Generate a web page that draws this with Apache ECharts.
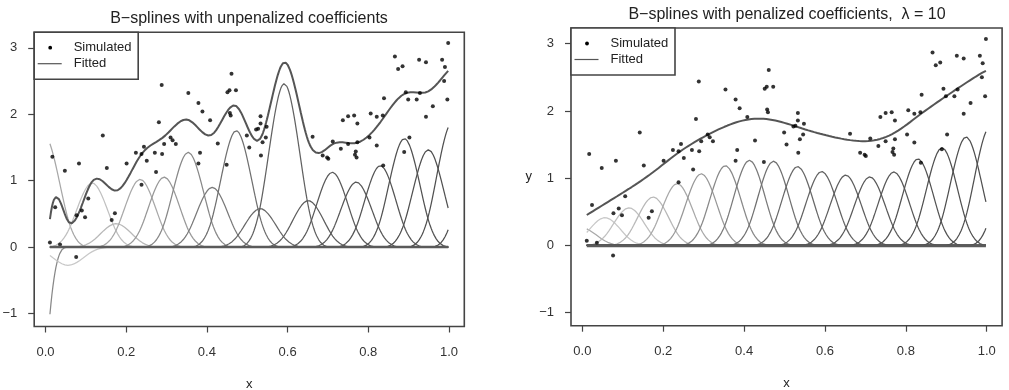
<!DOCTYPE html>
<html>
<head>
<meta charset="utf-8">
<script src="https://cdn.jsdelivr.net/npm/echarts@6/dist/echarts.min.js"></script>
<style>
html, body { margin: 0; padding: 0; background: #fff; }
#main { width: 1009px; height: 390px; }
</style>
</head>
<body>
<div id="main"></div>
<script>
// simulated points (same in both panels)
var simX = [0.011, 0.017, 0.024, 0.036, 0.048, 0.076, 0.077, 0.083, 0.090, 0.098,
  0.106, 0.142, 0.152, 0.164, 0.172, 0.201, 0.224, 0.238, 0.238, 0.244,
  0.251, 0.271, 0.274, 0.281, 0.288, 0.289, 0.294, 0.310, 0.315, 0.323,
  0.354, 0.379, 0.389, 0.379, 0.383, 0.408, 0.427, 0.449, 0.451, 0.456,
  0.461, 0.472, 0.457, 0.459, 0.499, 0.505, 0.522, 0.527, 0.533, 0.533,
  0.548, 0.546, 0.538, 0.534, 0.662, 0.687, 0.698, 0.701, 0.712, 0.732,
  0.737, 0.750, 0.765, 0.773, 0.750, 0.773, 0.767, 0.771, 0.769, 0.803,
  0.806, 0.821, 0.821, 0.837, 0.839, 0.836, 0.866, 0.874, 0.885, 0.893,
  0.899, 0.902, 0.889, 0.920, 0.928, 0.926, 0.943, 0.960, 0.943, 0.983,
  0.990, 0.988, 0.996, 0.998];
var simY = [0.07, 1.36, 0.60, 0.04, 1.15, -0.15, 0.48, 1.26, 0.55, 0.45,
  0.73, 1.68, 1.19, 0.41, 0.51, 1.26, 1.42, 1.40, 0.94, 1.51,
  1.30, 1.42, 1.13, 1.88, 2.44, 1.40, 1.55, 1.65, 1.61, 1.55,
  2.32, 2.17, 2.04, 1.26, 1.42, 1.91, 1.56, 1.24, 2.33, 2.36,
  2.61, 2.36, 2.02, 1.98, 1.68, 1.50, 1.77, 1.78, 1.97, 1.86,
  1.81, 1.65, 1.58, 1.38, 1.66, 1.38, 1.35, 1.33, 1.59, 1.48,
  1.91, 1.97, 1.98, 1.86, 1.55, 1.58, 1.39, 1.35, 1.44, 1.65,
  2.01, 1.96, 1.53, 1.23, 2.24, 1.98, 2.87, 2.68, 2.72, 2.33,
  2.22, 1.65, 1.43, 2.22, 2.32, 2.82, 2.78, 2.12, 1.96, 2.82,
  2.71, 2.50, 2.22, 3.07];

// cubic B-spline basis: nseg equal segments on knotRange -> nseg + 3 functions
var knotRange = [-0.0035, 1.0085];
var nseg = 17;

// coefficients of the 20 basis functions
var coefUnpen = [-14, 2.53, -0.41, 1.45, 0.53, 1.53, 1.58, 2.14, 1.35, 2.63,
  0.87, 3.69, 1.05, 1.69, 1.47, 1.84, 2.45, 2.2, 2.82, 2.8];
var coefPen = [0.16, 0.40, 0.62, 0.84, 1.08, 1.38, 1.6, 1.78, 1.9, 1.88,
  1.76, 1.65, 1.57, 1.53, 1.64, 1.93, 2.18, 2.42, 2.65, 2.75];

var xTicks = [0, 0.2, 0.4, 0.6, 0.8, 1.0];
var yTicks = [-1, 0, 1, 2, 3];
var titles = ['B\u2212splines with unpenalized coefficients',
  'B\u2212splines with penalized coefficients,  \u03bb = 10'];
var legendNames = ['Simulated', 'Fitted'];

var FONT = '"Liberation Sans", Arial, Helvetica, sans-serif';
var basisGray = ['#888', '#a8a8a8', '#c8c8c8', '#c0c0c0', '#b8b8b8', '#a8a8a8', '#989898',
  '#888', '#7a7a7a', '#707070', '#686868', '#626262', '#5e5e5e', '#5a5a5a', '#575757',
  '#545454', '#525252', '#505050', '#505050', '#505050'];

var dx = (knotRange[1] - knotRange[0]) / nseg;
function basis(j, x) {
  var c = knotRange[0] + (j - 1) * dx;
  var u = Math.abs(x - c) / dx;
  if (u < 1) return (4 - 6 * u * u + 3 * u * u * u) / 6;
  if (u < 2) return Math.pow(2 - u, 3) / 6;
  return 0;
}

var xLo = Math.min.apply(null, simX), xHi = Math.max.apply(null, simX);
var xs = [];
for (var i = 0; i <= 400; i++) xs.push(xLo + (xHi - xLo) * i / 400);

var points = simX.map(function (x, i) { return [x, simY[i]]; });

var panels = [
  { grid: { left: 34.2, top: 32.2, width: 430.1, height: 294.3 }, coef: coefUnpen, titleX: 249, titleY: 11, yName: '' },
  { grid: { left: 571, top: 28, width: 431.1, height: 297.7 }, coef: coefPen, titleX: 787, titleY: 7, yName: 'y' }
];

var option = {
  animation: false,
  title: [],
  grid: [],
  xAxis: [],
  yAxis: [],
  series: [],
  graphic: []
};

panels.forEach(function (p, k) {
  option.title.push({
    text: titles[k], left: p.titleX, top: p.titleY, textAlign: 'center', padding: 0,
    textStyle: { fontFamily: FONT, fontSize: 16, fontWeight: 'normal', color: '#222' }
  });
  option.grid.push({
    left: p.grid.left, top: p.grid.top, width: p.grid.width, height: p.grid.height,
    show: true, borderColor: '#444', borderWidth: 1.6, backgroundColor: 'transparent',
    outerBoundsMode: 'none'
  });
  option.xAxis.push({
    type: 'value', gridIndex: k, min: -0.028, max: 1.038, position: 'bottom',
    name: 'x', nameLocation: 'middle', nameGap: 51,
    nameTextStyle: { fontFamily: FONT, fontSize: 13, color: '#222' },
    axisLine: { show: false, onZero: false },
    axisTick: { show: true, inside: false, length: 6, customValues: xTicks, lineStyle: { color: '#444', width: 1.2 } },
    axisLabel: { customValues: xTicks, margin: 19, fontFamily: FONT, fontSize: 13, color: '#333',
      formatter: function (v) { return v.toFixed(1); } },
    splitLine: { show: false }
  });
  option.yAxis.push({
    type: 'value', gridIndex: k, min: -1.194, max: 3.234, position: 'left',
    name: p.yName, nameLocation: 'middle', nameGap: 39, nameRotate: 0,
    nameTextStyle: { fontFamily: FONT, fontSize: 13, color: '#222' },
    axisLine: { show: false, onZero: false },
    axisTick: { show: true, inside: false, length: 6, customValues: yTicks, lineStyle: { color: '#444', width: 1.2 } },
    axisLabel: { customValues: yTicks, margin: 17, fontFamily: FONT, fontSize: 13, color: '#333',
      formatter: function (v) { return v < 0 ? '\u2212' + Math.abs(v) : String(v); } },
    splitLine: { show: false }
  });

  var fitted = xs.map(function () { return 0; });
  p.coef.forEach(function (a, j) {
    var data = xs.map(function (x, i) {
      var v = a * basis(j, x);
      fitted[i] += v;
      return [x, v];
    });
    var s = {
      type: 'line', xAxisIndex: k, yAxisIndex: k, data: data, showSymbol: false, silent: true,
      lineStyle: { color: basisGray[j], width: 1.25 }, z: 2
    };
    if (j === 0) {
      // the flat zero parts of all basis curves pile up into one heavy line
      s.markLine = {
        silent: true, symbol: 'none', label: { show: false },
        lineStyle: { color: '#5a5a5a', width: 2.4, type: 'solid' },
        data: [[{ coord: [xLo, 0] }, { coord: [xHi, 0] }]]
      };
    }
    option.series.push(s);
  });
  option.series.push({
    name: legendNames[1], type: 'line', xAxisIndex: k, yAxisIndex: k, showSymbol: false, silent: true,
    data: xs.map(function (x, i) { return [x, fitted[i]]; }),
    lineStyle: { color: '#555', width: 2 }, z: 3
  });
  option.series.push({
    name: legendNames[0], type: 'scatter', xAxisIndex: k, yAxisIndex: k, data: points,
    symbolSize: 4, itemStyle: { color: '#000' }, silent: true, z: 4
  });

  // legend box, R style
  var gl = p.grid.left, gt = p.grid.top;
  option.graphic.push(
    { type: 'rect', shape: { x: gl, y: gt, width: 104, height: 47 }, style: { fill: '#fff', stroke: '#444', lineWidth: 1.6 }, z: 10 },
    { type: 'circle', shape: { cx: gl + 16, cy: gt + 15.5, r: 1.9 }, style: { fill: '#000' }, z: 11 },
    { type: 'line', shape: { x1: gl + 3.5, y1: gt + 31.5, x2: gl + 27.5, y2: gt + 31.5 }, style: { stroke: '#555', lineWidth: 1.2 }, z: 11 },
    { type: 'text', x: gl + 39.5, y: gt + 15.5, style: { text: legendNames[0], font: '13px ' + FONT, fill: '#222', verticalAlign: 'middle' }, z: 11 },
    { type: 'text', x: gl + 39.5, y: gt + 31.5, style: { text: legendNames[1], font: '13px ' + FONT, fill: '#222', verticalAlign: 'middle' }, z: 11 }
  );
});

var chart = echarts.init(document.getElementById('main'));
chart.setOption(option);
</script>
</body>
</html>
